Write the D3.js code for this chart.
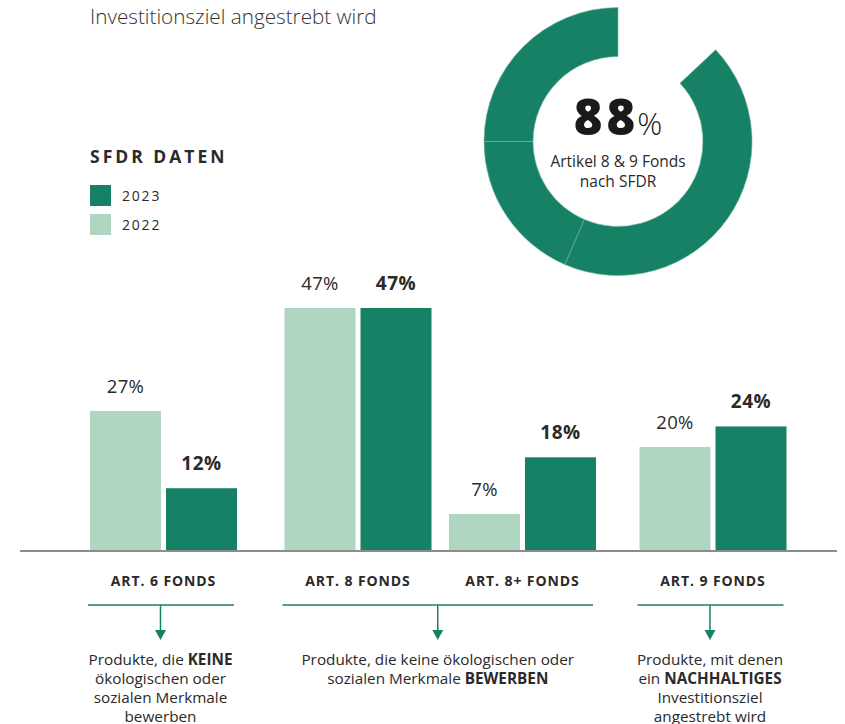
<!DOCTYPE html>
<html lang="de">
<head>
<meta charset="UTF-8">
<title>SFDR Daten</title>
<script src="https://d3js.org/d3.v7.min.js"></script>
<style>
  body { margin: 0; background: #fff; }
  svg { display: block; font-family: "Open Sans", Lato, sans-serif; }
</style>
</head>
<body>
<svg width="845" height="724"></svg>
<script>
// --- data ---
const categories = ["ART. 6 FONDS", "ART. 8 FONDS", "ART. 8+ FONDS", "ART. 9 FONDS"];
const years = ["2022", "2023"];
const values2022 = [27, 47, 7, 20];
const values2023 = [12, 47, 18, 24];
const legendYears = ["2023", "2022"];

const donutNames = ["Art. 8", "Art. 8+", "Art. 9"];
const donutShares = [43.5, 18.5, 25];   // share of the ring
const donutHeadline = "88";
const donutCaption = ["Artikel 8 & 9 Fonds", "nach SFDR"];

const topLine = "Investitionsziel angestrebt wird";
const legendTitle = "SFDR DATEN";

// brackets: which categories each one spans, and its description (bold parts marked)
const bracketGroups = [[0], [1, 2], [3]];
const bracketTexts = [
  [[["Produkte, die ", false], ["KEINE", true]], [["ökologischen oder", false]], [["sozialen Merkmale", false]], [["bewerben", false]]],
  [[["Produkte, die keine ökologischen oder", false]], [["sozialen Merkmale ", false], ["BEWERBEN", true]]],
  [[["Produkte, mit denen", false]], [["ein ", false], ["NACHHALTIGES", true]], [["Investitionsziel", false]], [["angestrebt wird", false]]]
];

// --- style ---
const dark = "#178166";
const light = "#b0d6c2";
const textCol = "#2a2a2a";

const svg = d3.select("svg");

// group centres (Art. 8 and 8+ sit closer together)
const x = d3.scaleOrdinal().domain(categories).range([163.5, 358, 522.5, 713]);
const xInner = d3.scaleBand().domain(years).range([-73.5, 73.5]).paddingInner(0.066);
const y = d3.scaleLinear().domain([0, 47]).range([550, 308]);

const rows = categories.map((c, i) => ({cat: c, v: {"2022": values2022[i], "2023": values2023[i]}}));

// top text
svg.append("text")
  .attr("x", 90).attr("y", 24)
  .attr("font-size", 20.7).attr("font-weight", 300)
  .attr("fill", "#333")
  .text(topLine);

// legend
svg.append("text")
  .attr("x", 90).attr("y", 163)
  .attr("font-size", 17.5).attr("font-weight", 700)
  .attr("letter-spacing", 3)
  .attr("fill", textCol)
  .text(legendTitle);

const leg = svg.selectAll(".leg").data(legendYears).enter().append("g")
  .attr("transform", (d, i) => `translate(90,${185 + i * 29})`);
leg.append("rect").attr("width", 21).attr("height", 21)
  .attr("fill", d => d === "2023" ? dark : light);
leg.append("text").attr("x", 32).attr("y", 16)
  .attr("font-size", 14).attr("letter-spacing", 1.8)
  .attr("fill", textCol).text(d => d);

// bars
const groups = svg.selectAll(".grp").data(rows).enter().append("g")
  .attr("transform", d => `translate(${x(d.cat)},0)`);

groups.selectAll("rect").data(d => years.map(yr => ({yr, v: d.v[yr]}))).enter()
  .append("rect")
  .attr("x", d => xInner(d.yr))
  .attr("width", xInner.bandwidth())
  .attr("y", d => y(d.v))
  .attr("height", d => y(0) - y(d.v))
  .attr("fill", d => d.yr === "2023" ? dark : light);

groups.selectAll(".val").data(d => years.map(yr => ({yr, v: d.v[yr]}))).enter()
  .append("text")
  .attr("x", d => xInner(d.yr) + xInner.bandwidth() / 2)
  .attr("y", d => y(d.v) - 18)
  .attr("text-anchor", "middle")
  .attr("font-size", d => d.yr === "2023" ? 19 : 18.5)
  .attr("font-weight", d => d.yr === "2023" ? 700 : 400)
  .attr("letter-spacing", d => d.yr === "2023" ? 0.6 : 0.3)
  .attr("fill", textCol)
  .text(d => d.v + "%");

// baseline
svg.append("line")
  .attr("x1", 20).attr("x2", 837)
  .attr("y1", y(0) + 1).attr("y2", y(0) + 1)
  .attr("stroke", "#8c8c8c").attr("stroke-width", 2);

// category labels
svg.selectAll(".cat").data(categories).enter().append("text")
  .attr("x", d => x(d))
  .attr("y", 586)
  .attr("text-anchor", "middle")
  .attr("font-size", 14).attr("font-weight", 700)
  .attr("letter-spacing", 0.9)
  .attr("fill", textCol)
  .text(d => d);

// brackets with arrows
const arrowTop = 605;
bracketGroups.forEach((idx, b) => {
  const x0 = x(categories[idx[0]]) + xInner("2022") - 2;
  const x1 = x(categories[idx[idx.length - 1]]) + xInner("2023") + xInner.bandwidth() - 3;
  const cx = idx.length === 1 ? x(categories[idx[0]]) - 3 : (x0 + x1) / 2;
  const g = svg.append("g");
  g.append("line").attr("x1", x0).attr("x2", x1)
    .attr("y1", arrowTop).attr("y2", arrowTop)
    .attr("stroke", dark).attr("stroke-width", 1.5);
  g.append("line").attr("x1", cx).attr("x2", cx)
    .attr("y1", arrowTop).attr("y2", 632)
    .attr("stroke", dark).attr("stroke-width", 1.5);
  g.append("path")
    .attr("d", `M${cx - 5.5},630 L${cx + 5.5},630 L${cx},640 Z`)
    .attr("fill", dark);

  const t = g.append("text")
    .attr("text-anchor", "middle")
    .attr("font-size", 15.3)
    .attr("fill", textCol);
  bracketTexts[b].forEach((line, li) => {
    line.forEach((part, pi) => {
      const ts = t.append("tspan").text(part[0])
        .attr("font-weight", part[1] ? 700 : 400);
      if (pi === 0) ts.attr("x", cx).attr("y", 665 + li * 19);
    });
  });
});

// donut
const cx = 618, cy = 141.5;
const total = d3.sum(donutShares);
const pie = d3.pie().sort(null)
  .startAngle(2 * Math.PI * (1 - total / 100))
  .endAngle(2 * Math.PI);
const arc = d3.arc().innerRadius(85).outerRadius(134);
const dg = svg.append("g").attr("transform", `translate(${cx},${cy})`);
dg.selectAll("path").data(pie(donutShares))
  .enter().append("path")
  .attr("d", arc)
  .attr("fill", dark)
  .attr("stroke", "#6fb59d").attr("stroke-width", 0.6);

const head = dg.append("text").attr("text-anchor", "middle").attr("y", -7).attr("fill", "#1a1a1a");
head.append("tspan").text(donutHeadline)
  .attr("font-size", 49).attr("font-weight", 800).attr("letter-spacing", 4);
head.append("tspan").text("%")
  .attr("font-size", 31).attr("font-weight", 300).attr("dx", -2);

dg.selectAll(".cap").data(donutCaption).enter().append("text")
  .attr("text-anchor", "middle")
  .attr("y", (d, i) => 25 + i * 20)
  .attr("font-size", 15.5)
  .attr("fill", textCol)
  .text(d => d);
</script>
</body>
</html>
